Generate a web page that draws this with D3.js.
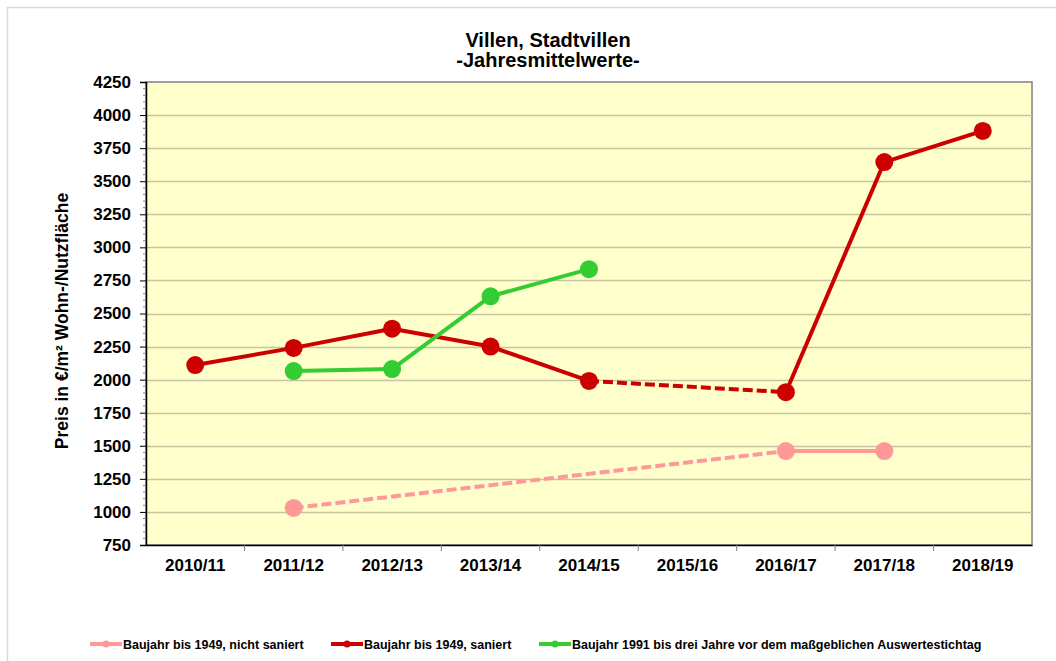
<!DOCTYPE html>
<html>
<head>
<meta charset="utf-8">
<script src="https://cdn.jsdelivr.net/npm/d3@7"></script>
<style>
  body { margin: 0; background: #fff; }
  text { font-family: "Liberation Sans", Arial, sans-serif; font-weight: bold; }
</style>
</head>
<body>
<div id="chart"></div>
<script>
// categories and series (null = no value)
var years = ["2010/11", "2011/12", "2012/13", "2013/14", "2014/15", "2015/16", "2016/17", "2017/18", "2018/19"];
var nichtSaniert = [null, 1030, null, null, null, null, 1460, 1460, null];
var saniert = [2110, 2240, 2385, 2250, 1990, null, 1905, 3645, 3880];
var neubau = [null, 2065, 2080, 2630, 2835, null, null, null, null];
var yTicks = [750, 1000, 1250, 1500, 1750, 2000, 2250, 2500, 2750, 3000, 3250, 3500, 3750, 4000, 4250];

var series = [
  { name: "Baujahr bis 1949, nicht saniert", values: nichtSaniert, color: "#FF9999" },
  { name: "Baujahr bis 1949, saniert", values: saniert, color: "#CC0000" },
  { name: "Baujahr 1991 bis drei Jahre vor dem maßgeblichen Auswertestichtag", values: neubau, color: "#33CC33" }
];

var w = 1056, h = 661;
var m = { left: 146, right: 1032, top: 82, bottom: 545 };
var font = "'Liberation Sans', Arial, sans-serif";

var svg = d3.select("#chart").append("svg")
  .attr("width", w)
  .attr("height", h);

// outer frame
svg.append("rect")
  .attr("x", 7.5).attr("y", 7.5)
  .attr("width", w + 10).attr("height", h + 10)
  .attr("fill", "#fff")
  .attr("stroke", "#d9d9d9")
  .attr("stroke-width", 1.5);

var x = d3.scaleBand().domain(years).range([m.left, m.right]);
var y = d3.scaleLinear().domain([750, 4250]).range([m.bottom, m.top]);

// plot background
svg.append("rect")
  .attr("x", m.left).attr("y", m.top)
  .attr("width", m.right - m.left).attr("height", m.bottom - m.top)
  .attr("fill", "#FFFFCC")
  .attr("stroke", "#808080")
  .attr("stroke-width", 1.5);

// gridlines
svg.append("g")
  .selectAll("line")
  .data(yTicks.slice(1, -1))
  .enter()
  .append("line")
  .attr("x1", m.left).attr("x2", m.right)
  .attr("y1", function(d) { return Math.round(y(d)) + 0.5; })
  .attr("y2", function(d) { return Math.round(y(d)) + 0.5; })
  .attr("stroke", "#C8C3A0")
  .attr("stroke-width", 1.5);

// y axis
var yAxis = d3.axisLeft(y).tickValues(yTicks).tickFormat(d3.format("d")).tickSize(6).tickPadding(9);
var gy = svg.append("g").attr("transform", "translate(" + m.left + ",0)").call(yAxis);
gy.attr("font-family", font).attr("font-size", 17);
gy.select(".domain").attr("stroke", "#000").attr("stroke-width", 1.5);
gy.selectAll(".tick line").attr("stroke", "#000");
gy.selectAll(".tick text").attr("fill", "#000").attr("font-weight", "bold");

// minor y ticks every 50
svg.append("g")
  .selectAll("line")
  .data(d3.range(750, 4251, 50).filter(function(v) { return v % 250 !== 0; }))
  .enter()
  .append("line")
  .attr("x1", m.left - 3).attr("x2", m.left)
  .attr("y1", function(d) { return y(d); })
  .attr("y2", function(d) { return y(d); })
  .attr("stroke", "#808080");

// x axis
var xAxis = d3.axisBottom(x).tickSize(0).tickPadding(14);
var gx = svg.append("g").attr("transform", "translate(0," + m.bottom + ")").call(xAxis);
gx.attr("font-family", font).attr("font-size", 17);
gx.select(".domain").attr("stroke", "#000").attr("stroke-width", 1.5);
gx.selectAll(".tick text").attr("fill", "#000").attr("font-weight", "bold");
// category separators below the axis
gx.append("g")
  .selectAll("line")
  .data(years.slice(1))
  .enter()
  .append("line")
  .attr("x1", function(d) { return x(d); })
  .attr("x2", function(d) { return x(d); })
  .attr("y1", 0).attr("y2", 6)
  .attr("stroke", "#808080");

// lines: solid for consecutive points, dashed when bridging a gap
var plot = svg.append("g");
series.forEach(function(s) {
  var pts = [];
  s.values.forEach(function(v, i) { if (v !== null) pts.push({ i: i, v: v }); });
  for (var k = 1; k < pts.length; k++) {
    var a = pts[k - 1], b = pts[k];
    plot.append("line")
      .attr("x1", x(years[a.i]) + x.bandwidth() / 2)
      .attr("y1", y(a.v))
      .attr("x2", x(years[b.i]) + x.bandwidth() / 2)
      .attr("y2", y(b.v))
      .attr("stroke", s.color)
      .attr("stroke-width", 4)
      .attr("stroke-dasharray", b.i - a.i > 1 ? "10,4" : null);
  }
  plot.append("g")
    .selectAll("circle")
    .data(pts)
    .enter()
    .append("circle")
    .attr("cx", function(d) { return x(years[d.i]) + x.bandwidth() / 2; })
    .attr("cy", function(d) { return y(d.v); })
    .attr("r", 9)
    .attr("fill", s.color);
});

// title
svg.append("text")
  .attr("x", 548).attr("y", 47)
  .attr("text-anchor", "middle")
  .attr("font-size", 20)
  .text("Villen, Stadtvillen");
svg.append("text")
  .attr("x", 548).attr("y", 67)
  .attr("text-anchor", "middle")
  .attr("font-size", 20)
  .text("-Jahresmittelwerte-");

// y axis title
svg.append("text")
  .attr("transform", "translate(68,321) rotate(-90)")
  .attr("text-anchor", "middle")
  .attr("font-size", 17.5)
  .text("Preis in €/m² Wohn-/Nutzfläche");

// legend
var legendX = [90, 331, 539];
var legend = svg.append("g");
series.forEach(function(s, i) {
  var g = legend.append("g").attr("transform", "translate(" + legendX[i] + ",644)");
  g.append("line").attr("x1", 0).attr("x2", 32).attr("y1", 0).attr("y2", 0)
    .attr("stroke", s.color).attr("stroke-width", 4);
  g.append("circle").attr("cx", 16).attr("cy", 0).attr("r", 3.5).attr("fill", s.color);
  g.append("text").attr("x", 33).attr("y", 4.5)
    .attr("font-size", 12.5)
    .text(s.name);
});
</script>
</body>
</html>
